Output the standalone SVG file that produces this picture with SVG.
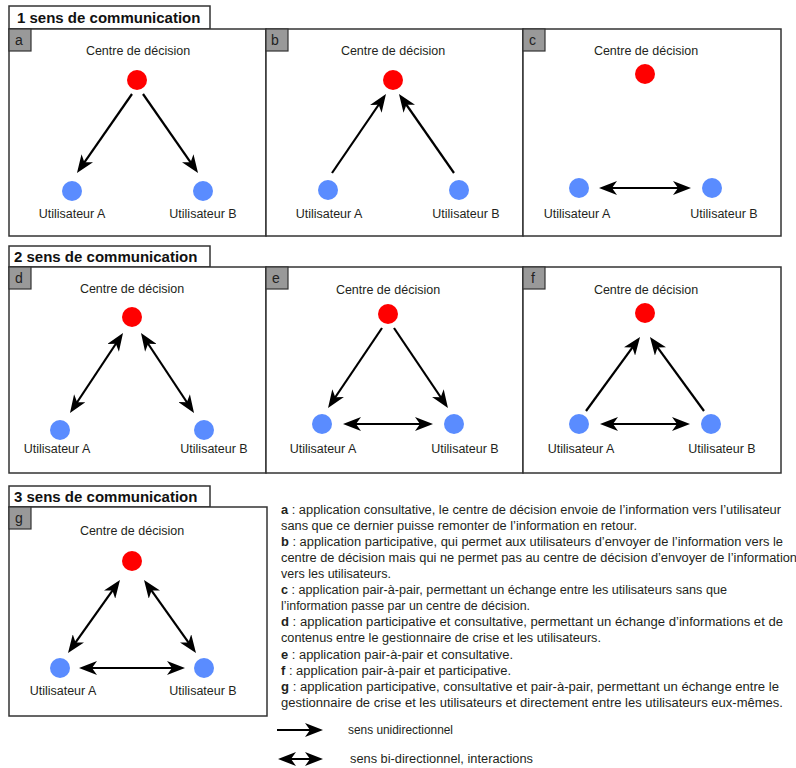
<svg xmlns="http://www.w3.org/2000/svg" width="796" height="768" viewBox="0 0 796 768">
<style>
text{font-family:"Liberation Sans",Arial,sans-serif;fill:#231f20}
.hdr{fill:#fff;stroke:#333;stroke-width:1.5}
.htx{font-size:15px;font-weight:bold;fill:#111}
.pan{fill:#fff;stroke:#333;stroke-width:1.5}
.tag{fill:#999;stroke:#333;stroke-width:1.2}
.ttx{font-size:14px;fill:#222}
.lbl{font-size:12.5px;text-anchor:middle}
.red{fill:#ff0000}
.blue{fill:#5a8cff}
.uni{stroke:#000;stroke-width:2.2;fill:none;marker-end:url(#ah)}
.bi{stroke:#000;stroke-width:2.2;fill:none;marker-end:url(#ah);marker-start:url(#ah)}
.leg{font-size:12.5px}
.leg tspan.b{font-weight:bold}
</style>
<defs>
<marker id="ah" viewBox="0 0 18 14" refX="12" refY="7" markerWidth="18" markerHeight="14" markerUnits="userSpaceOnUse" orient="auto-start-reverse">
<path d="M0,0 L18,7 L0,14 L5,7 Z" fill="#000"/>
</marker>
</defs>

<!-- section headers -->
<g id="header1"><rect class="hdr" x="9" y="6" width="201" height="23"/><text class="htx" x="17" y="23">1 sens de communication</text></g>
<g id="header2"><rect class="hdr" x="9" y="246" width="201" height="21"/><text class="htx" x="14" y="262">2 sens de communication</text></g>
<g id="header3"><rect class="hdr" x="9" y="486" width="201" height="21"/><text class="htx" x="14" y="502">3 sens de communication</text></g>

<!-- panel frames -->
<g id="panel-a"><rect class="pan" x="9" y="29" width="257" height="207"/><rect class="tag" x="9" y="29" width="22" height="22"/><text class="ttx" x="15" y="45">a</text></g>
<g id="panel-b"><rect class="pan" x="266" y="29" width="257" height="207"/><rect class="tag" x="266" y="29" width="22" height="22"/><text class="ttx" x="271" y="45">b</text></g>
<g id="panel-c"><rect class="pan" x="523" y="29" width="258" height="207"/><rect class="tag" x="523" y="29" width="22" height="22"/><text class="ttx" x="529" y="45">c</text></g>
<g id="panel-d"><rect class="pan" x="9" y="267" width="257" height="206"/><rect class="tag" x="9" y="267" width="22" height="22"/><text class="ttx" x="15" y="283">d</text></g>
<g id="panel-e"><rect class="pan" x="266" y="267" width="257" height="206"/><rect class="tag" x="266" y="267" width="22" height="22"/><text class="ttx" x="272" y="283">e</text></g>
<g id="panel-f"><rect class="pan" x="523" y="267" width="258" height="206"/><rect class="tag" x="523" y="267" width="22" height="22"/><text class="ttx" x="531" y="283">f</text></g>
<g id="panel-g"><rect class="pan" x="9" y="507" width="258" height="209"/><rect class="tag" x="9" y="507" width="22" height="22"/><text class="ttx" x="15" y="523">g</text></g>

<!-- nodes -->
<g id="a-centre"><text class="lbl" x="138" y="55">Centre de décision</text><circle class="red" cx="137" cy="80" r="10"/></g>
<g id="a-userA"><circle class="blue" cx="72" cy="191" r="10"/><text class="lbl" x="72" y="218">Utilisateur A</text></g>
<g id="a-userB"><circle class="blue" cx="203" cy="191" r="10"/><text class="lbl" x="203" y="218">Utilisateur B</text></g>

<g id="b-centre"><text class="lbl" x="393" y="55">Centre de décision</text><circle class="red" cx="393" cy="80" r="10"/></g>
<g id="b-userA"><circle class="blue" cx="328" cy="190" r="10"/><text class="lbl" x="329" y="218">Utilisateur A</text></g>
<g id="b-userB"><circle class="blue" cx="459" cy="190" r="10"/><text class="lbl" x="466" y="218">Utilisateur B</text></g>

<g id="c-centre"><text class="lbl" x="646" y="55">Centre de décision</text><circle class="red" cx="645" cy="74" r="10"/></g>
<g id="c-userA"><circle class="blue" cx="579" cy="188" r="10"/><text class="lbl" x="577" y="218">Utilisateur A</text></g>
<g id="c-userB"><circle class="blue" cx="712" cy="188" r="10"/><text class="lbl" x="724" y="218">Utilisateur B</text></g>

<g id="d-centre"><text class="lbl" x="132" y="293">Centre de décision</text><circle class="red" cx="132" cy="317" r="10"/></g>
<g id="d-userA"><circle class="blue" cx="60" cy="430" r="10"/><text class="lbl" x="57" y="453">Utilisateur A</text></g>
<g id="d-userB"><circle class="blue" cx="204" cy="430" r="10"/><text class="lbl" x="214" y="453">Utilisateur B</text></g>

<g id="e-centre"><text class="lbl" x="388" y="294">Centre de décision</text><circle class="red" cx="388" cy="314" r="10"/></g>
<g id="e-userA"><circle class="blue" cx="322" cy="424" r="10"/><text class="lbl" x="323" y="453">Utilisateur A</text></g>
<g id="e-userB"><circle class="blue" cx="454" cy="424" r="10"/><text class="lbl" x="465" y="453">Utilisateur B</text></g>

<g id="f-centre"><text class="lbl" x="646" y="294">Centre de décision</text><circle class="red" cx="645" cy="313" r="10"/></g>
<g id="f-userA"><circle class="blue" cx="579" cy="424" r="10"/><text class="lbl" x="581" y="453">Utilisateur A</text></g>
<g id="f-userB"><circle class="blue" cx="711" cy="424" r="10"/><text class="lbl" x="722" y="453">Utilisateur B</text></g>

<g id="g-centre"><text class="lbl" x="132" y="535">Centre de décision</text><circle class="red" cx="132" cy="561" r="10"/></g>
<g id="g-userA"><circle class="blue" cx="60" cy="668" r="10"/><text class="lbl" x="63" y="695">Utilisateur A</text></g>
<g id="g-userB"><circle class="blue" cx="204" cy="668" r="10"/><text class="lbl" x="203" y="695">Utilisateur B</text></g>

<!-- connectors -->
<g id="connectors">
<line class="uni" x1="132" y1="94" x2="80.4" y2="168.1"/>
<line class="uni" x1="143" y1="94" x2="194.6" y2="168.1"/>
<line class="uni" x1="332" y1="173" x2="382.6" y2="99"/>
<line class="uni" x1="454" y1="173" x2="402.4" y2="99"/>
<line class="bi" x1="605" y1="188" x2="685" y2="188"/>
<line class="bi" x1="119.7" y1="338" x2="73.3" y2="408"/>
<line class="bi" x1="144.3" y1="338" x2="190.7" y2="408"/>
<line class="uni" x1="382" y1="328" x2="331.4" y2="403"/>
<line class="uni" x1="394" y1="328" x2="444.6" y2="403"/>
<line class="bi" x1="349" y1="424" x2="427" y2="424"/>
<line class="uni" x1="586" y1="411" x2="636.5" y2="341.8"/>
<line class="uni" x1="704" y1="411" x2="653.5" y2="341.8"/>
<line class="bi" x1="606" y1="424" x2="684" y2="424"/>
<line class="bi" x1="116.5" y1="584.9" x2="71.5" y2="648.1"/>
<line class="bi" x1="147.5" y1="584.9" x2="192.5" y2="648.1"/>
<line class="bi" x1="85" y1="668" x2="179" y2="668"/>
<line class="uni" x1="277" y1="730" x2="317" y2="730"/>
<line class="bi" x1="284" y1="759" x2="317" y2="759"/>
</g>

<!-- legend text -->
<g id="legend">
<text class="leg" x="281" y="514" textLength="500" lengthAdjust="spacingAndGlyphs"><tspan class="b">a</tspan> : application consultative, le centre de décision envoie de l’information vers l’utilisateur</text>
<text class="leg" x="281" y="530" textLength="356" lengthAdjust="spacingAndGlyphs">sans que ce dernier puisse remonter de l’information en retour.</text>
<text class="leg" x="281" y="546" textLength="502" lengthAdjust="spacingAndGlyphs"><tspan class="b">b</tspan> : application participative, qui permet aux utilisateurs d’envoyer de l’information vers le</text>
<text class="leg" x="281" y="562" textLength="516" lengthAdjust="spacingAndGlyphs">centre de décision mais qui ne permet pas au centre de décision d’envoyer de l’information</text>
<text class="leg" x="281" y="578" textLength="110" lengthAdjust="spacingAndGlyphs">vers les utilisateurs.</text>
<text class="leg" x="281" y="594" textLength="446" lengthAdjust="spacingAndGlyphs"><tspan class="b">c</tspan> : application pair-à-pair, permettant un échange entre les utilisateurs sans que</text>
<text class="leg" x="281" y="610" textLength="249" lengthAdjust="spacingAndGlyphs">l’information passe par un centre de décision.</text>
<text class="leg" x="281" y="626" textLength="502" lengthAdjust="spacingAndGlyphs"><tspan class="b">d</tspan> : application participative et consultative, permettant un échange d’informations et de</text>
<text class="leg" x="281" y="642" textLength="320" lengthAdjust="spacingAndGlyphs">contenus entre le gestionnaire de crise et les utilisateurs.</text>
<text class="leg" x="281" y="659" textLength="232" lengthAdjust="spacingAndGlyphs"><tspan class="b">e</tspan> : application pair-à-pair et consultative.</text>
<text class="leg" x="281" y="675" textLength="230" lengthAdjust="spacingAndGlyphs"><tspan class="b">f</tspan> : application pair-à-pair et participative.</text>
<text class="leg" x="281" y="691" textLength="498" lengthAdjust="spacingAndGlyphs"><tspan class="b">g</tspan> : application participative, consultative et pair-à-pair, permettant un échange entre le</text>
<text class="leg" x="281" y="707" textLength="502" lengthAdjust="spacingAndGlyphs">gestionnaire de crise et les utilisateurs et directement entre les utilisateurs eux-mêmes.</text>
<text class="leg" x="348" y="734" textLength="105" lengthAdjust="spacingAndGlyphs">sens unidirectionnel</text>
<text class="leg" x="350" y="763" textLength="183" lengthAdjust="spacingAndGlyphs">sens bi-directionnel, interactions</text>
</g>
</svg>
